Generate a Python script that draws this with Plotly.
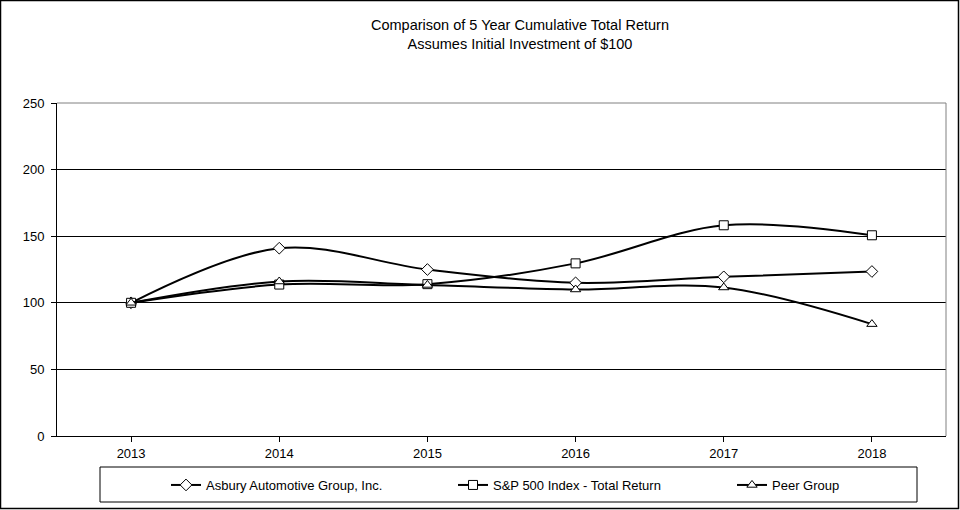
import plotly.graph_objects as go

years = ["2013", "2014", "2015", "2016", "2017", "2018"]
asbury = [100, 141, 125, 115, 119.5, 123.5]
sp500 = [100, 113.7, 114, 129.6, 158.2, 150.7]
peer = [100, 116, 113.4, 110, 111.5, 84]

y_ticks = [0, 50, 100, 150, 200, 250]

FONT = "Liberation Sans, Arial, sans-serif"

L, R, T, B = 57, 14, 103, 74
W, H = 960, 510
pw = W - L - R
ph = H - T - B

def px(x):
    return (x - L) / pw

def py(y):
    return (H - B - y) / ph

fig = go.Figure()

def add(name, vals, symbol, legend):
    fig.add_trace(go.Scatter(
        x=years, y=vals, name=name, mode="lines+markers", legend=legend,
        line=dict(color="black", width=2, shape="spline", smoothing=1.0),
        marker=dict(symbol=symbol, size=9, color="white",
                    line=dict(color="black", width=1)),
    ))

add("Asbury Automotive Group, Inc.", asbury, "diamond", "legend")
add("S&P 500 Index - Total Return", sp500, "square", "legend2")
add("Peer Group", peer, "triangle-up", "legend3")

shapes = [
    dict(type="rect", xref="paper", yref="paper",
         x0=px(0.5), x1=px(958.5), y0=py(508.5), y1=py(0.5),
         line=dict(color="black", width=1.5), layer="above"),
    dict(type="line", xref="paper", yref="paper", x0=0, x1=1, y0=1, y1=1,
         line=dict(color="#808080", width=1), layer="above"),
    dict(type="line", xref="paper", yref="paper", x0=1, x1=1, y0=0, y1=1,
         line=dict(color="#808080", width=1), layer="above"),
    dict(type="rect", xref="paper", yref="paper",
         x0=px(100), x1=px(917), y0=py(502), y1=py(467),
         line=dict(color="black", width=1), layer="above"),
]

def leg(xpx):
    return dict(x=px(xpx), xanchor="left", y=py(485), yanchor="middle",
                bgcolor="rgba(0,0,0,0)", borderwidth=0,
                font=dict(family=FONT, size=13, color="black"))

fig.update_layout(
    width=W, height=H,
    margin=dict(l=L, r=R, t=T, b=B, autoexpand=False),
    paper_bgcolor="white", plot_bgcolor="white",
    font=dict(family=FONT, size=13, color="black"),
    showlegend=True,
    legend=leg(166),
    legend2=leg(453),
    legend3=leg(732),
    xaxis=dict(type="category", range=[-0.5, 5.5], showgrid=False,
               showline=True, linecolor="black", linewidth=1,
               ticks="outside", ticklen=5, tickcolor="black",
               ticklabelstandoff=0,
               tickfont=dict(family=FONT, size=13), fixedrange=True),
    yaxis=dict(range=[0, 250], tickvals=y_ticks, showgrid=True,
               gridcolor="black", gridwidth=1, zeroline=False,
               showline=True, linecolor="black", linewidth=1,
               ticks="outside", ticklen=5, tickcolor="black",
               ticklabelstandoff=4,
               tickfont=dict(family=FONT, size=13), fixedrange=True),
    shapes=shapes,
    annotations=[
        dict(xref="paper", yref="paper", x=px(520), y=py(35),
             xanchor="center", yanchor="middle", showarrow=False,
             text="Comparison of 5 Year Cumulative Total Return<br>Assumes Initial Investment of $100",
             font=dict(family=FONT, size=14.5, color="black")),
    ],
)

fig.write_html("out.html", config={"displayModeBar": False},
               post_script="document.body.style.margin='0';document.body.style.overflow='hidden';")
